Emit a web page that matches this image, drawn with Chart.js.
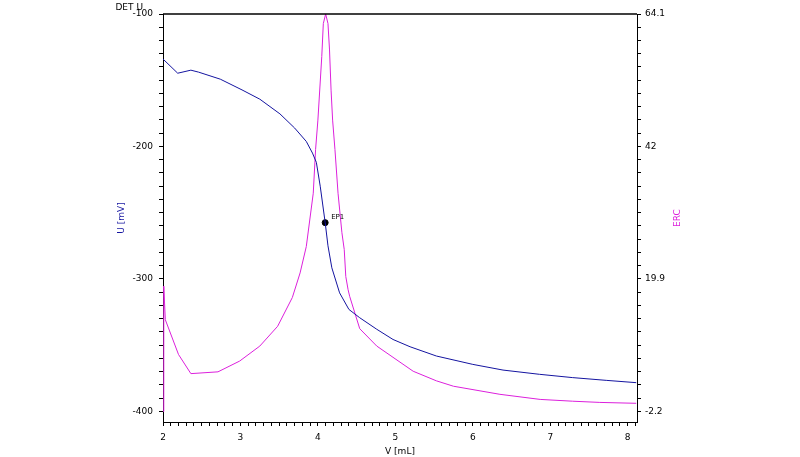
<!DOCTYPE html>
<html>
<head>
<meta charset="utf-8">
<script src="https://cdn.jsdelivr.net/npm/chart.js@4"></script>
<style>
  html, body { margin: 0; padding: 0; background: #fff; }
  #wrap { width: 800px; height: 457px; }
</style>
</head>
<body>
<div id="wrap"><canvas id="titration" width="800" height="457"></canvas></div>
<script>
// titration curve: potential U and ERC vs dosed volume
const uVolume = [2.0, 2.19, 2.36, 2.46, 2.74, 3.02, 3.25, 3.51, 3.70, 3.85, 3.93, 3.98, 4.03, 4.094, 4.13, 4.18, 4.28, 4.40, 4.54, 4.76, 4.97, 5.19, 5.53, 6.0, 6.39, 6.86, 7.29, 7.73, 8.11];
const uValues = [-134, -144.7, -142.4, -143.9, -149.2, -157.3, -164.3, -175.4, -186.1, -196.2, -205, -212, -230, -257.5, -275, -291.6, -310.5, -323, -329.3, -338, -345.7, -351.2, -358.2, -364.5, -368.8, -372, -374.5, -376.6, -378.3];

const ercVolume = [2.0, 2.01, 2.03, 2.2, 2.36, 2.71, 2.99, 3.25, 3.48, 3.67, 3.77, 3.85, 3.94, 3.97, 4.0, 4.05, 4.07, 4.10, 4.13, 4.15, 4.17, 4.19, 4.22, 4.26, 4.31, 4.34, 4.36, 4.39, 4.41, 4.54, 4.76, 5.23, 5.53, 5.75, 6.35, 6.87, 7.29, 7.64, 8.11];
const ercValues = [-2.2, 18.7, 13.1, 7.3, 4.1, 4.4, 6.2, 8.7, 12.0, 16.8, 20.9, 25.3, 34.2, 41.5, 46.4, 57.0, 62.5, 64.1, 62.5, 58.1, 51.4, 46.4, 41.5, 34.2, 27.6, 24.8, 20.3, 18.1, 17.0, 11.6, 8.7, 4.5, 2.9, 2.0, 0.65, -0.2, -0.5, -0.7, -0.85];

const epVolume = [4.094];
const epValues = [-257.5];
const epNames = ['EP1'];

const xTickLabels = [2, 3, 4, 5, 6, 7, 8];
const uTickLabels = [-100, -200, -300, -400];
const ercTickLabels = [64.1, 42, 19.9, -2.2];

const xMin = 2, xMax = 8.12;
const uMin = -408, uMax = -100;
// right axis is a linear re-labelling of the left one
const ercPerU = (ercTickLabels[0] - ercTickLabels[3]) / (uTickLabels[0] - uTickLabels[3]);
const ercMax = ercTickLabels[0] + (uMax - uTickLabels[0]) * ercPerU;
const ercMin = ercTickLabels[0] + (uMin - uTickLabels[0]) * ercPerU;

const BLUE = '#1414a0';
const MAGENTA = '#dc20dc';

Chart.defaults.font.family = "'DejaVu Sans', Verdana, sans-serif";
Chart.defaults.font.size = 9;
Chart.defaults.color = '#000';

const pts = (xs, ys) => xs.map((x, i) => ({ x, y: ys[i] }));

const axisGrid = { drawOnChartArea: false, drawTicks: true, tickLength: 4, color: '#000' };
const axisBorder = { display: true, color: '#000', width: 1 };

const extras = {
  id: 'extras',
  afterDatasetsDraw(chart) {
    const { ctx, chartArea } = chart;
    ctx.save();
    // top frame line
    ctx.strokeStyle = '#000';
    ctx.lineWidth = 1.5;
    ctx.beginPath();
    ctx.moveTo(chartArea.left, chartArea.top);
    ctx.lineTo(chartArea.right, chartArea.top);
    ctx.stroke();
    // header of the left axis
    ctx.fillStyle = '#000';
    ctx.font = "9px 'DejaVu Sans'";
    ctx.textAlign = 'right';
    ctx.textBaseline = 'middle';
    ctx.fillText('DET U', chartArea.left - 20, chartArea.top - 6);
    // right axis title, reading bottom to top like the left one
    ctx.save();
    ctx.translate(chartArea.right + 41, (chartArea.top + chartArea.bottom) / 2);
    ctx.rotate(-Math.PI / 2);
    ctx.textAlign = 'center';
    ctx.fillStyle = MAGENTA;
    ctx.fillText('ERC', 0, 0);
    ctx.restore();
    // endpoint label
    const meta = chart.getDatasetMeta(2);
    ctx.font = "7px 'DejaVu Sans'";
    ctx.textAlign = 'left';
    meta.data.forEach((p, i) => ctx.fillText(epNames[i], p.x + 6, p.y - 5));
    ctx.restore();
  }
};

new Chart(document.getElementById('titration'), {
  type: 'line',
  data: {
    datasets: [
      { label: 'U', data: pts(uVolume, uValues), yAxisID: 'y', borderColor: BLUE, borderWidth: 1, pointRadius: 0, tension: 0, fill: false },
      { label: 'ERC', data: pts(ercVolume, ercValues), yAxisID: 'y2', borderColor: MAGENTA, borderWidth: 1, pointRadius: 0, tension: 0, fill: false },
      { label: 'EP', type: 'scatter', data: pts(epVolume, epValues), yAxisID: 'y', pointRadius: 3, backgroundColor: '#000', borderColor: '#000' }
    ]
  },
  options: {
    responsive: false,
    animation: false,
    layout: { padding: { left: 112, right: 113, top: 14, bottom: 0 } },
    plugins: { legend: { display: false }, tooltip: { enabled: false } },
    scales: {
      x: {
        type: 'linear', min: xMin, max: xMax,
        grid: axisGrid, border: axisBorder,
        afterBuildTicks: s => { const t = []; for (let i = 20; i <= 81; i++) t.push({ value: i / 10 }); s.ticks = t; },
        afterFit: s => { s.height = 35; },
        ticks: { autoSkip: false, maxRotation: 0, padding: 6,
          callback: v => { const r = Math.round(v * 10); return (r % 10 === 0 && xTickLabels.includes(r / 10)) ? String(r / 10) : ''; } },
        title: { display: true, text: 'V [mL]', padding: { top: 0, bottom: 0 } }
      },
      y: {
        type: 'linear', position: 'left', min: uMin, max: uMax,
        grid: axisGrid, border: axisBorder,
        afterBuildTicks: s => { const t = []; for (let v = uMax; v >= uMin; v -= 10) t.push({ value: v }); s.ticks = t; },
        afterFit: s => { s.width = 51; },
        ticks: { autoSkip: false, padding: 6, callback: v => uTickLabels.includes(v) ? String(v) : '' },
        title: { display: true, text: 'U [mV]', color: BLUE, padding: { top: 4, bottom: 0 } }
      },
      y2: {
        type: 'linear', position: 'right', min: ercMin, max: ercMax,
        grid: axisGrid, border: axisBorder,
        afterBuildTicks: s => {
          const step = (ercTickLabels[0] - ercTickLabels[1]) / 10;
          const t = []; for (let k = 0; ercTickLabels[0] - k * step >= ercMin - 1e-9; k++) t.push({ value: ercTickLabels[0] - k * step });
          s.ticks = t;
        },
        afterFit: s => { s.width = 50; },
        ticks: { autoSkip: false, padding: 4,
          callback: (v, i) => (i % 10 === 0 && ercTickLabels[i / 10] !== undefined) ? String(ercTickLabels[i / 10]) : '' },
        title: { display: false }
      }
    }
  },
  plugins: [extras]
});
</script>
</body>
</html>
